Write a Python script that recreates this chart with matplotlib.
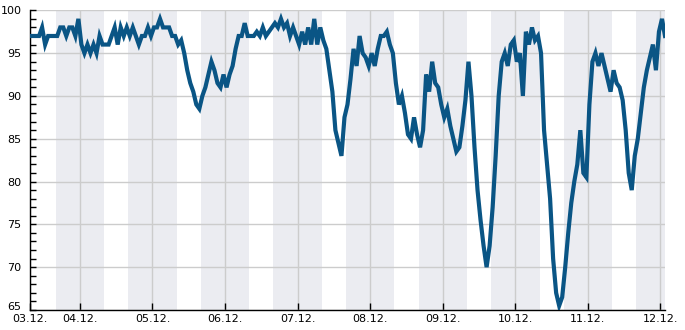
import matplotlib
matplotlib.use("Agg")
import matplotlib.pyplot as plt
import matplotlib.transforms as mtransforms
from matplotlib.ticker import MultipleLocator
import pandas as pd

# hourly readings starting 03.12. 07:30
start_time = "2023-12-03 07:30"
values = [
    97, 97, 97, 97, 98, 96, 97, 97, 97, 97,
    98, 98, 97, 98, 98, 97, 99, 96, 95, 96,
    95, 96, 95, 97, 96, 96, 96, 97, 98, 96,
    98, 97, 98, 97, 98, 97, 96, 97, 97, 98,
    97, 98, 98, 99, 98, 98, 98, 97, 97, 96,
    96.5, 95, 93, 91.5, 90.5, 89, 88.5, 90, 91, 92.5,
    94, 93, 91.5, 91, 92.5, 91, 92.5, 93.5, 95.5, 97,
    97, 98.5, 97, 97, 97, 97.5, 97, 98, 97, 97.5,
    98, 98.5, 98, 99, 98, 98.5, 97, 98, 97, 96,
    97.5, 96, 98, 96, 99, 96, 98, 96.5, 95.5, 93,
    90.5, 86, 84.5, 83, 87.5, 89, 92, 95.5, 93.5, 97,
    95, 94.5, 93.5, 95, 93.5, 95.5, 97, 97, 97.5, 96,
    95, 91.5, 89, 90, 88, 85.5, 85, 87.5, 85.5, 84,
    86, 92.5, 90.5, 94, 91.5, 91, 89, 87.5, 88.5, 86.5,
    85, 83.5, 84, 86.5, 89.5, 94, 90, 84, 79, 75.5,
    72.5, 70, 72.5, 77, 83, 90, 94, 95, 93.5, 96,
    96.5, 94, 95, 90, 97.5, 96, 98, 96.5, 97, 95,
    86, 82, 78, 71, 67, 65.5, 66.5, 70, 74, 77.5,
    80, 82, 86, 81, 80.5, 89, 94, 95, 93.5, 95,
    93.5, 92, 90.5, 93, 91.5, 91, 89.5, 86, 81, 79,
    83, 85, 88, 91, 93, 94.5, 96, 93, 97.5, 99,
    97,
]
y_ticks = [65, 70, 75, 80, 85, 90, 95, 100]
night_start_hour = 16
night_end_hour = 8

times = pd.date_range(start_time, periods=len(values), freq="h")

fig = plt.figure(figsize=(6.85, 3.3), dpi=100)
ax = fig.add_axes([30 / 685, 20 / 330, 635 / 685, 299.7 / 330])

t0, t1 = times[0], times[-1]

# night bands
day = t0.normalize()
while day <= t1:
    a = day + pd.Timedelta(hours=night_start_hour)
    b = day + pd.Timedelta(hours=24 + night_end_hour)
    ax.axvspan(a, b, color="#ebecf1", lw=0, zorder=0)
    day += pd.Timedelta(days=1)

ax.plot(times, values, color="#0a5585", lw=3.0, solid_joinstyle="miter", zorder=3)

ax.set_xlim(t0, t1)
ax.set_ylim(65, 100)

midnights = pd.date_range(t0.normalize() + pd.Timedelta(days=1), t1, freq="D")
xticks = [t0] + list(midnights)
ax.set_xticks(xticks)
ax.set_xticklabels([t.strftime("%d.%m.") for t in xticks])

ax.set_yticks(y_ticks)
ax.set_yticklabels([str(v) for v in y_ticks])
ax.yaxis.set_minor_locator(MultipleLocator(1))

ax.grid(True, which="major", color="#cccccc", lw=1, zorder=1)
ax.set_axisbelow(True)

for s in ["top", "right"]:
    ax.spines[s].set_visible(False)
ax.spines["left"].set_linewidth(1)
ax.spines["bottom"].set_linewidth(1)

ax.tick_params(axis="y", which="both", direction="in", length=4, width=1,
               labelsize=8, pad=6)
ax.tick_params(axis="x", which="major", direction="in", length=5, width=1,
               labelsize=8, pad=3)

# lift the bottom y label a little so it clears the first date
lift = mtransforms.ScaledTranslation(0, 3 / 72, fig.dpi_scale_trans)
lbl65 = ax.yaxis.get_major_ticks()[0].label1
lbl65.set_transform(lbl65.get_transform() + lift)

fig.savefig("out.png", dpi=100)
